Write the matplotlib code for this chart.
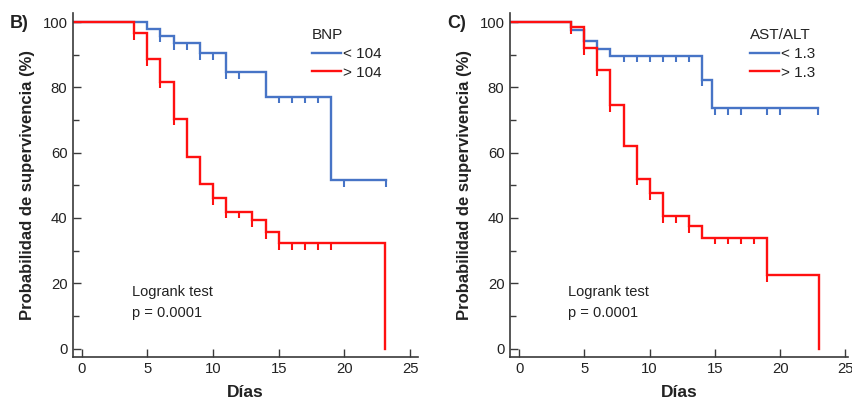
import numpy as np
import matplotlib
matplotlib.use("Agg")
import matplotlib.pyplot as plt
from matplotlib.lines import Line2D

plt.rcParams['font.family'] = ['Liberation Sans', 'DejaVu Sans']

# ---------------- data ----------------
# Panel B: BNP
bnp_low_times = [0, 5, 6, 7, 9, 11, 14, 19, 23.2]
bnp_low_surv = [100, 97.9, 95.9, 93.6, 90.4, 84.7, 77.1, 51.5, 51.5]
bnp_low_cens = [6, 7, 8, 9, 10, 11, 12, 15, 16, 17, 18, 20, 23.2]

bnp_high_times = [0, 4, 5, 6, 7, 8, 9, 10, 11, 13, 14, 15, 23.1]
bnp_high_surv = [100, 96.6, 88.7, 81.8, 70.4, 58.8, 50.5, 46.1, 41.9, 39.3, 35.6, 32.2, 0]
bnp_high_cens = [4, 5, 6, 7, 10, 11, 12, 13, 14, 15, 16, 17, 18, 19]

# Panel C: AST/ALT
ast_low_times = [0, 4, 5, 6, 7, 14, 14.8, 22.9]
ast_low_surv = [100, 97.5, 94.1, 91.7, 89.7, 82.3, 73.7, 73.7]
ast_low_cens = [8, 9, 10, 11, 12, 13, 14, 15, 16, 17, 19, 20, 22.9]

ast_high_times = [0, 4, 5, 6, 7, 8, 9, 10, 11, 13, 14, 19, 23.0]
ast_high_surv = [100, 98.4, 92.0, 85.4, 74.5, 62.2, 52.0, 47.6, 40.5, 37.4, 34.0, 22.4, 0]
ast_high_cens = [4, 5, 6, 7, 9, 10, 11, 12, 13, 15, 16, 17, 18, 19]

x_ticks = [0, 5, 10, 15, 20, 25]
y_ticks = [0, 20, 40, 60, 80, 100]
y_minor = [10, 30, 50, 70, 90]

BLUE = '#4774C6'
RED = '#FF1010'
AX_COL = '#3a3a3a'
TXT = '#222222'

W, H = 853, 403
fig = plt.figure(figsize=(W / 100, H / 100), dpi=100)

def make_axes(x0, x1, xlim):
    ax = fig.add_axes([x0 / W, 1 - 356.7 / H, (x1 - x0) / W, (356.7 - 13) / H])
    ax.set_xlim(*xlim)
    ax.set_ylim(-2.5, 102.8)
    for s in ['top', 'right']:
        ax.spines[s].set_visible(False)
    for s in ['left', 'bottom']:
        ax.spines[s].set_color(AX_COL)
        ax.spines[s].set_linewidth(1.2)
    ax.set_xticks(x_ticks)
    ax.set_yticks(y_ticks)
    ax.set_yticks(y_minor, minor=True)
    ax.tick_params(axis='both', which='major', direction='in', color=AX_COL,
                   width=1.0, labelsize=10.7, labelcolor=TXT)
    ax.tick_params(axis='x', which='major', length=6, pad=4)
    ax.tick_params(axis='y', which='major', length=6, pad=4)
    ax.tick_params(axis='y', which='minor', direction='in', length=4.5, width=1.0, color=AX_COL)
    ax.set_xlabel('Días', fontsize=12.5, fontweight='bold', color=TXT, labelpad=6)
    ax.set_ylabel('Probabilidad de supervivencia (%)', fontsize=12, fontweight='bold',
                  color=TXT, labelpad=5)
    return ax

def km(ax, times, surv, cens, color):
    t = np.asarray(times, float)
    s = np.asarray(surv, float)
    xmin = ax.get_xlim()[0]
    ax.step(np.r_[xmin, t], np.r_[s[0], s], where='post', color=color, lw=1.7,
            solid_joinstyle='miter')
    c = np.asarray(cens, float)
    idx = np.searchsorted(t, c, side='right') - 1
    lv = s[idx]
    ax.vlines(c, lv - 2.0, lv, color=color, lw=1.5)

def legend(ax, title, labels, anchor):
    handles = [Line2D([], [], color=BLUE, lw=1.7), Line2D([], [], color=RED, lw=1.7)]
    leg = ax.legend(handles, labels, title=title, loc='upper left', bbox_to_anchor=anchor,
                    frameon=False, fontsize=11, title_fontsize=11, handlelength=1.9,
                    handletextpad=0.15, labelspacing=0.3, borderpad=0, borderaxespad=0,
                    alignment='left')
    for tx in leg.get_texts():
        tx.set_color(TXT)
    leg.get_title().set_color(TXT)

# Panel B
ax1 = make_axes(73, 418, (-0.66, 25.6))
km(ax1, bnp_low_times, bnp_low_surv, bnp_low_cens, BLUE)
km(ax1, bnp_high_times, bnp_high_surv, bnp_high_cens, RED)
legend(ax1, 'BNP', ['< 104', '> 104'], (0.692, 0.955))
ax1.text(3.8, 16.1, 'Logrank test', fontsize=10.5, color=TXT, va='baseline')
ax1.text(3.8, 9.7, 'p = 0.0001', fontsize=10.5, color=TXT, va='baseline')

# Panel C
ax2 = make_axes(510, 848, (-0.7, 25.2))
km(ax2, ast_low_times, ast_low_surv, ast_low_cens, BLUE)
km(ax2, ast_high_times, ast_high_surv, ast_high_cens, RED)
legend(ax2, 'AST/ALT', ['< 1.3', '> 1.3'], (0.71, 0.955))
ax2.text(3.78, 16.1, 'Logrank test', fontsize=10.5, color=TXT, va='baseline')
ax2.text(3.78, 9.7, 'p = 0.0001', fontsize=10.5, color=TXT, va='baseline')

fig.text(10 / W, 1 - 28.3 / H, 'B)', fontsize=13, fontweight='bold', color=TXT, va='baseline')
fig.text(447 / W, 1 - 28.3 / H, 'C)', fontsize=13, fontweight='bold', color=TXT, va='baseline')

fig.savefig('out.png', dpi=100)
